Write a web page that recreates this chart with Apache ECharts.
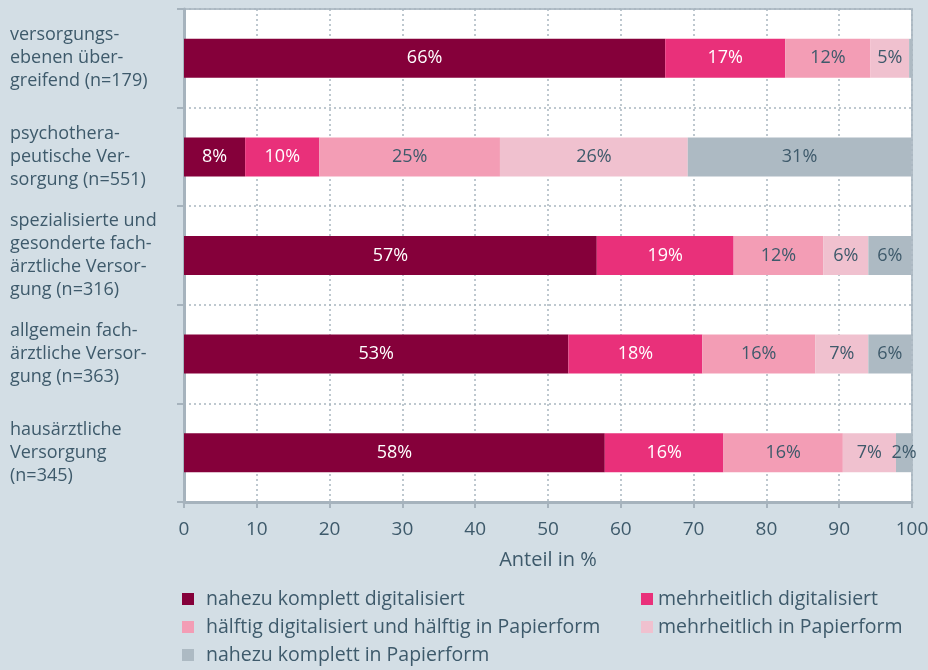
<!DOCTYPE html>
<html><head><meta charset="utf-8">
<script src="https://cdn.jsdelivr.net/npm/echarts@6/dist/echarts.min.js"></script>
<style>html,body{margin:0;padding:0;background:#d3dee5;}#c{width:928px;height:670px;}</style>
</head><body><div id="c"></div>
<script>
const categories = [
  "versorgungs-\nebenen über-\ngreifend (n=179)",
  "psychothera-\npeutische Ver-\nsorgung (n=551)",
  "spezialisierte und\ngesonderte fach-\närztliche Versor-\ngung (n=316)",
  "allgemein fach-\närztliche Versor-\ngung (n=363)",
  "hausärztliche\nVersorgung\n(n=345)"
];
const seriesNames = [
  "nahezu komplett digitalisiert",
  "mehrheitlich digitalisiert",
  "hälftig digitalisiert und hälftig in Papierform",
  "mehrheitlich in Papierform",
  "nahezu komplett in Papierform"
];
const nahezuDigital   = [66.1, 8.4, 56.7, 52.8, 57.8];
const mehrDigital     = [16.5, 10.2, 18.8, 18.4, 16.3];
const haelftig        = [11.7, 24.8, 12.3, 15.5, 16.4];
const mehrPapier      = [5.3, 25.8, 6.2, 7.3, 7.3];
const nahezuPapier    = [0.4, 30.7, 5.9, 5.9, 2.2];
const xTicks = [0,10,20,30,40,50,60,70,80,90,100];

const colors = ['#85003a','#e9307a','#f39db5','#f0c1cf','#adbac3'];
const labelColors = ['#ffffff','#ffffff','#3e5a6b','#3e5a6b','#3e5a6b'];
const values = [nahezuDigital, mehrDigital, haelftig, mehrPapier, nahezuPapier];
const txt = '#3e5a6b';
const font = 'Open Sans';

const chart = echarts.init(document.getElementById('c'));
chart.setOption({
  backgroundColor: '#d3dee5',
  animation: false,
  textStyle: {fontFamily: font},
  grid: {left: 184, right: 16, top: 9, bottom: 168, containLabel: false, outerBoundsMode: 'none',
    show: true, backgroundColor: '#ffffff', borderColor: '#b3bfc8', borderWidth: 2},
  xAxis: {
    type: 'value', min: 0, max: 100, interval: 10,
    name: 'Anteil in %', nameLocation: 'middle', nameGap: 48,
    nameTextStyle: {color: txt, fontSize: 20, fontFamily: font},
    axisLine: {show: true, lineStyle: {color: '#a6b3bd', width: 3}},
    axisTick: {show: true, length: 6, lineStyle: {color: '#a6b3bd', width: 2}},
    axisLabel: {color: txt, fontSize: 19, margin: 18, fontFamily: font, formatter: v => xTicks.includes(v) ? String(v) : ''},
    splitLine: {show: true, lineStyle: {color: '#a9b6c0', type: [2,3], width: 1.5}}
  },
  yAxis: {
    type: 'category', data: categories, inverse: true,
    axisLine: {show: true, lineStyle: {color: '#a6b3bd', width: 3}},
    axisTick: {show: true, length: 7, lineStyle: {color: '#a6b3bd', width: 2}},
    axisLabel: {color: txt, fontSize: 18, align: 'left', margin: 174, lineHeight: 23, fontFamily: font},
    splitLine: {show: true, lineStyle: {color: '#a9b6c0', type: [2,3], width: 1.5}}
  },
  legend: [
    {data: [seriesNames[0], seriesNames[2], seriesNames[4]], orient: 'vertical', left: 182, top: 589, padding: 0,
     itemWidth: 12, itemHeight: 12, itemGap: 8, icon: 'rect',
     textStyle: {color: txt, fontSize: 19.5, lineHeight: 20, fontFamily: font, padding: [0,0,0,7]}},
    {data: [seriesNames[1], seriesNames[3]], orient: 'vertical', left: 641, top: 589, padding: 0,
     itemWidth: 12, itemHeight: 12, itemGap: 8, icon: 'rect',
     textStyle: {color: txt, fontSize: 19.5, lineHeight: 20, fontFamily: font}}
  ],
  series: values.map((vals, i) => ({
    name: seriesNames[i], type: 'bar', stack: 'all', data: vals, barWidth: 39,
    itemStyle: {color: colors[i]},
    label: {show: true, position: 'inside', color: labelColors[i], fontSize: 18, fontFamily: font,
      formatter: p => p.value < 1 ? '' : Math.round(p.value) + '%'}
  }))
});
</script></body></html>
